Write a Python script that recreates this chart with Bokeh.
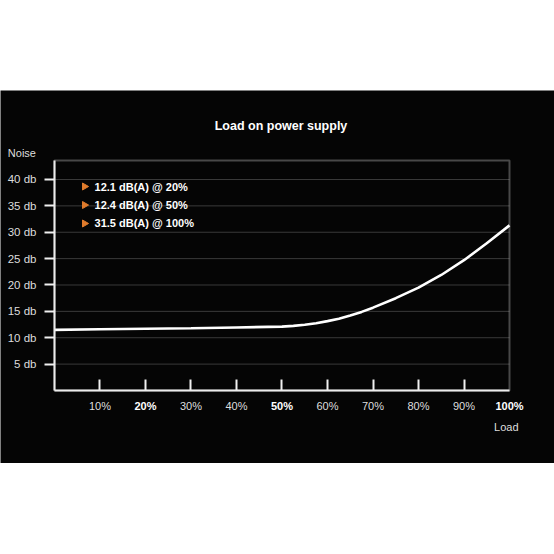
from bokeh.plotting import figure
from bokeh.models import Range1d, FixedTicker, Spacer, BoxAnnotation
from bokeh.layouts import column
from bokeh.core.properties import value
from bokeh.embed import file_html
from bokeh.resources import INLINE
import math

# ---- data ----
load_pct = [0, 10, 20, 30, 40, 50, 52.5, 55, 57.5, 60, 62.5, 65, 67.5, 70, 75, 80, 85, 90, 95, 100]
noise_db = [11.5, 11.6, 11.7, 11.8, 11.95, 12.1, 12.25, 12.45, 12.75, 13.15, 13.6, 14.2, 14.9, 15.7,
            17.5, 19.5, 21.9, 24.7, 27.9, 31.3]

x_ticks = [10, 20, 30, 40, 50, 60, 70, 80, 90, 100]
x_tick_labels = ["10%", "20%", "30%", "40%", "50%", "60%", "70%", "80%", "90%", "100%"]
x_tick_bold = [False, True, False, False, True, False, False, False, False, True]

y_ticks = [5, 10, 15, 20, 25, 30, 35, 40]
y_tick_labels = ["5 db", "10 db", "15 db", "20 db", "25 db", "30 db", "35 db", "40 db"]

notes = ["12.1 dB(A) @ 20%", "12.4 dB(A) @ 50%", "31.5 dB(A) @ 100%"]

title_text = "Load on power supply"
x_title = "Load"
y_title = "Noise"

# chart box limits
X_MIN, X_MAX = 0, 100
Y_MIN, Y_MAX = 0, 43.6

FONT = "Liberation Sans"
BG = "#050505"
TXT = "#dedede"
LINE = "#f0f0f0"

# the frame covers the whole black band; ranges extended so the chart box sits inside
p = figure(width=554, height=373, output_backend="svg", toolbar_location=None,
           x_range=Range1d(-11.868, 109.89), y_range=Range1d(-13.84, 56.87),
           min_border_left=0, min_border_right=0, min_border_top=0, min_border_bottom=0)
p.background_fill_color = BG
p.border_fill_color = BG
p.outline_line_color = None
p.grid.visible = False

# grid lines inside the box
p.segment(x0=[X_MIN] * len(y_ticks), x1=[X_MAX] * len(y_ticks), y0=y_ticks, y1=y_ticks,
          line_color="#3a3a3a", line_width=1)

# y axis
ya = p.yaxis[0]
ya.fixed_location = X_MIN
ya.bounds = (Y_MIN, Y_MAX)
ya.ticker = FixedTicker(ticks=y_ticks)
ya.major_label_overrides = {t: l for t, l in zip(y_ticks, y_tick_labels)}
ya.axis_line_color = LINE
ya.axis_line_width = 2
ya.major_tick_line_color = LINE
ya.major_tick_line_width = 2
ya.major_tick_in = 0
ya.major_tick_out = 10
ya.minor_tick_line_color = None
ya.major_label_standoff = 8
ya.major_label_text_color = TXT
ya.major_label_text_font = FONT
ya.major_label_text_font_size = "11.5px"

# x axis
xa = p.xaxis[0]
xa.fixed_location = Y_MIN
xa.bounds = (X_MIN, X_MAX)
xa.ticker = FixedTicker(ticks=x_ticks[:-1])
xa.major_label_overrides = {t: " " for t in x_ticks}
xa.axis_line_color = LINE
xa.axis_line_width = 2
xa.major_tick_line_color = LINE
xa.major_tick_line_width = 2
xa.major_tick_in = 11
xa.major_tick_out = 0
xa.minor_tick_line_color = None
xa.major_label_text_font_size = "1px"

# box outline (top/right edges)
p.add_layout(BoxAnnotation(left=X_MIN, right=X_MAX, bottom=Y_MIN, top=Y_MAX,
                           fill_alpha=0, line_color="#e6e6e6", line_width=2))

# curve
p.line(load_pct, noise_db, line_color="white", line_width=2.6)

# annotation list
note_y = [38.67, 35.16, 31.66]
p.scatter([6.6] * len(notes), note_y, marker="triangle", size=7, angle=-math.pi / 2,
          fill_color="#e07b2c", line_color="#e07b2c")
p.text([8.8] * len(notes), note_y, text=notes, text_color="white",
       text_font=value(FONT), text_font_size="11px", text_font_style="bold",
       text_baseline="middle", text_align="left")

# x tick labels (some bold)
norm = [(t, l) for t, l, b in zip(x_ticks, x_tick_labels, x_tick_bold) if not b]
bold = [(t, l) for t, l, b in zip(x_ticks, x_tick_labels, x_tick_bold) if b]
lab_y = -3.03
p.text([t for t, _ in norm], [lab_y] * len(norm), text=[l for _, l in norm],
       text_color=TXT, text_font=value(FONT), text_font_size="11px",
       text_baseline="middle", text_align="center")
p.text([t for t, _ in bold], [lab_y] * len(bold), text=[l for _, l in bold],
       text_color="white", text_font=value(FONT), text_font_size="11px", text_font_style="bold",
       text_baseline="middle", text_align="center")

# axis titles and chart title
p.text([99.3], [-7.01], text=[x_title], text_color=TXT, text_font=value(FONT),
       text_font_size="11px", text_baseline="middle", text_align="center")
p.text([-4.07], [45.06], text=[y_title], text_color=TXT, text_font=value(FONT),
       text_font_size="11px", text_baseline="middle", text_align="right")
p.text([49.78], [50.05], text=[title_text], text_color="white", text_font=value(FONT),
       text_font_size="12.5px", text_font_style="bold", text_baseline="middle", text_align="center")

layout = column(Spacer(width=554, height=90), p)

open("out.html", "w").write(file_html(layout, INLINE))
